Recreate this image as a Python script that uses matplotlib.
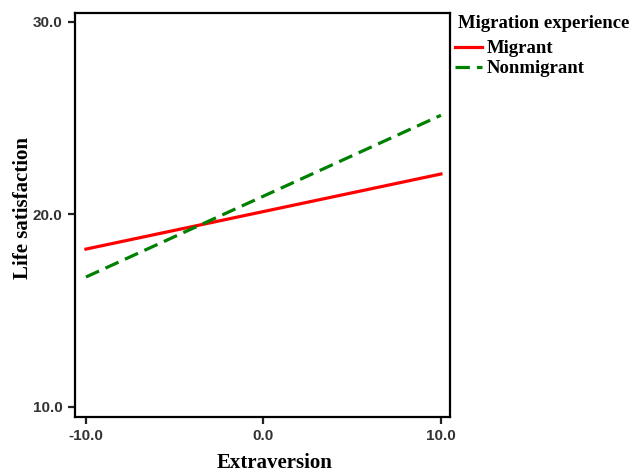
import matplotlib.pyplot as plt

# extraversion (centered) and predicted life satisfaction
x_vals = [-10.0, 10.0]
migrant = [18.2, 22.1]
nonmigrant = [16.75, 25.15]

x_ticks = [-10.0, 0.0, 10.0]
y_ticks = [10.0, 20.0, 30.0]

serif = 'Liberation Serif'
sans = 'Liberation Sans'

fig = plt.figure(figsize=(6.3, 4.76), dpi=100)
ax = fig.add_axes([0.119, 0.124, 0.595, 0.849])

ax.plot(x_vals, migrant, color='#ff0000', lw=2.3, label='Migrant')
ax.plot(x_vals, nonmigrant, color='#008000', lw=2.3, ls=(0, (4.5, 2.2)), label='Nonmigrant')

ax.set_xlim(-10.62, 10.5)
ax.set_ylim(9.48, 30.47)
ax.set_xticks(x_ticks)
ax.set_yticks(y_ticks)
ax.set_xticklabels(['%.1f' % v for v in x_ticks])
ax.set_yticklabels(['%.1f' % v for v in y_ticks])

for s in ax.spines.values():
    s.set_linewidth(1.6)
ax.tick_params(direction='out', length=5, width=1.6, color='#222222', pad=4)
for lab in ax.get_xticklabels() + ax.get_yticklabels():
    lab.set_fontfamily(sans)
    lab.set_fontweight('bold')
    lab.set_fontsize(11)
    lab.set_color('#333333')

ax.set_xlabel('Extraversion', fontfamily=serif, fontweight='bold', fontsize=15, va='center')
ax.set_ylabel('Life satisfaction', fontfamily=serif, fontweight='bold', fontsize=15, va='center')
ax.xaxis.set_label_coords(0.533, -0.114)
ax.yaxis.set_label_coords(-0.139, 0.517)

fig.text(458 / 630, 1 - 23 / 476, 'Migration experience', fontfamily=serif,
         fontweight='bold', fontsize=13.5, va='center', ha='left')
leg = fig.legend(loc='upper left', bbox_to_anchor=(455 / 630, 1 - 40 / 476), frameon=False,
                 prop={'family': serif, 'weight': 'bold', 'size': 13.5},
                 handlelength=1.44, handletextpad=0.27, labelspacing=0.16,
                 borderaxespad=0, borderpad=0)

fig.savefig('out.png', dpi=100)
